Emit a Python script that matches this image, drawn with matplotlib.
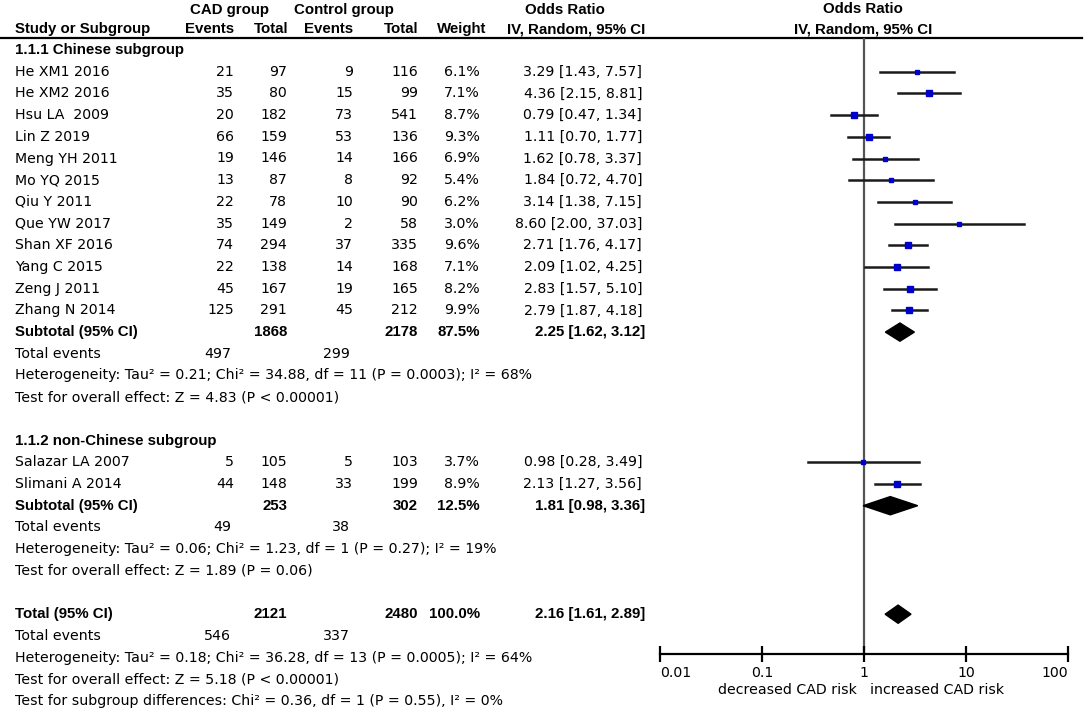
import numpy as np
import matplotlib.pyplot as plt
from matplotlib.patches import Polygon

plt.rcParams['font.family'] = ['DejaVu Sans']

# datos de los estudios
estudios = ['He XM1 2016', 'He XM2 2016', 'Hsu LA  2009', 'Lin Z 2019', 'Meng YH 2011',
            'Mo YQ 2015', 'Qiu Y 2011', 'Que YW 2017', 'Shan XF 2016', 'Yang C 2015',
            'Zeng J 2011', 'Zhang N 2014', 'Salazar LA 2007', 'Slimani A 2014']
ev_cad = [21, 35, 20, 66, 19, 13, 22, 35, 74, 22, 45, 125, 5, 44]
tot_cad = [97, 80, 182, 159, 146, 87, 78, 149, 294, 138, 167, 291, 105, 148]
ev_ctl = [9, 15, 73, 53, 14, 8, 10, 2, 37, 14, 19, 45, 5, 33]
tot_ctl = [116, 99, 541, 136, 166, 92, 90, 58, 335, 168, 165, 212, 103, 199]
peso = [6.1, 7.1, 8.7, 9.3, 6.9, 5.4, 6.2, 3.0, 9.6, 7.1, 8.2, 9.9, 3.7, 8.9]
OR = [3.29, 4.36, 0.79, 1.11, 1.62, 1.84, 3.14, 8.60, 2.71, 2.09, 2.83, 2.79, 0.98, 2.13]
ci_lo = [1.43, 2.15, 0.47, 0.70, 0.78, 0.72, 1.38, 2.00, 1.76, 1.02, 1.57, 1.87, 0.28, 1.27]
ci_hi = [7.57, 8.81, 1.34, 1.77, 3.37, 4.70, 7.15, 37.03, 4.17, 4.25, 5.10, 4.18, 3.49, 3.56]
fila_estudio = [1, 2, 3, 4, 5, 6, 7, 8, 9, 10, 11, 12, 19, 20]

# resumenes: subgrupo 1, subgrupo 2, total
res_nombre = ['Subtotal (95% CI)', 'Subtotal (95% CI)', 'Total (95% CI)']
res_fila = [13, 21, 26]
res_tot_cad = [1868, 253, 2121]
res_tot_ctl = [2178, 302, 2480]
res_peso = ['87.5%', '12.5%', '100.0%']
res_or = [2.25, 1.81, 2.16]
res_lo = [1.62, 0.98, 1.61]
res_hi = [3.12, 3.36, 2.89]
res_ev_cad = [497, 49, 546]
res_ev_ctl = [299, 38, 337]
res_het = ['Heterogeneity: Tau\u00b2 = 0.21; Chi\u00b2 = 34.88, df = 11 (P = 0.0003); I\u00b2 = 68%',
           'Heterogeneity: Tau\u00b2 = 0.06; Chi\u00b2 = 1.23, df = 1 (P = 0.27); I\u00b2 = 19%',
           'Heterogeneity: Tau\u00b2 = 0.18; Chi\u00b2 = 36.28, df = 13 (P = 0.0005); I\u00b2 = 64%']
res_z = ['Test for overall effect: Z = 4.83 (P < 0.00001)',
         'Test for overall effect: Z = 1.89 (P = 0.06)',
         'Test for overall effect: Z = 5.18 (P < 0.00001)']
subgrupos = ['1.1.1 Chinese subgroup', '1.1.2 non-Chinese subgroup']
fila_subgrupo = [0, 18]
dif_subgrupos = 'Test for subgroup differences: Chi\u00b2 = 0.36, df = 1 (P = 0.55), I\u00b2 = 0%'

y0 = 50.0    # pixel de la fila 0
dy = 21.7    # alto de fila
fs = 10.2    # normal
fb = 10.8    # negrita
negrita = dict(fontsize=fb, weight='bold', family=['Liberation Sans', 'DejaVu Sans'])

def py(r):
    return y0 + dy * r

fig = plt.figure(figsize=(10.84, 7.10), dpi=100)
ax = fig.add_axes([0, 0, 1, 1])
ax.set_xlim(0, 1084)
ax.set_ylim(710, 0)
ax.axis('off')

# encabezados
ax.text(230, 10, 'CAD group', ha='center', va='center', **negrita)
ax.text(344, 10, 'Control group', ha='center', va='center', **negrita)
ax.text(565, 10, 'Odds Ratio', ha='center', va='center', **negrita)
ax.text(863, 9, 'Odds Ratio', ha='center', va='center', **negrita)
ax.text(15, 29, 'Study or Subgroup', ha='left', va='center', **negrita)
for xr, t in zip([234, 288, 353, 418, 486, 645],
                 ['Events', 'Total', 'Events', 'Total', 'Weight', 'IV, Random, 95% CI']):
    ax.text(xr, 29, t, ha='right', va='center', **negrita)
ax.text(863, 30, 'IV, Random, 95% CI', ha='center', va='center', **negrita)
ax.plot([0, 1082], [38, 38], color='black', lw=1.6)

cols = [234, 287, 353, 418, 480, 642]

for g, r in zip(subgrupos, fila_subgrupo):
    ax.text(15, py(r), g, ha='left', va='center', **negrita)

for i in range(len(estudios)):
    y = py(fila_estudio[i])
    ax.text(15, y, estudios[i], ha='left', va='center', fontsize=fs)
    vals = [str(ev_cad[i]), str(tot_cad[i]), str(ev_ctl[i]), str(tot_ctl[i]),
            '%.1f%%' % peso[i], '%.2f [%.2f, %.2f]' % (OR[i], ci_lo[i], ci_hi[i])]
    for xr, t in zip(cols, vals):
        ax.text(xr, y, t, ha='right', va='center', fontsize=fs)

for j in range(3):
    r = res_fila[j]
    y = py(r)
    ax.text(15, y, res_nombre[j], ha='left', va='center', **negrita)
    ax.text(cols[1], y, str(res_tot_cad[j]), ha='right', va='center', **negrita)
    ax.text(cols[3], y, str(res_tot_ctl[j]), ha='right', va='center', **negrita)
    ax.text(cols[4], y, res_peso[j], ha='right', va='center', **negrita)
    ax.text(645, y, '%.2f [%.2f, %.2f]' % (res_or[j], res_lo[j], res_hi[j]),
            ha='right', va='center', **negrita)
    ax.text(15, py(r + 1), 'Total events', ha='left', va='center', fontsize=fs)
    ax.text(cols[0] - 3, py(r + 1), str(res_ev_cad[j]), ha='right', va='center', fontsize=fs)
    ax.text(cols[2] - 3, py(r + 1), str(res_ev_ctl[j]), ha='right', va='center', fontsize=fs)
    ax.text(15, py(r + 2), res_het[j], ha='left', va='center', fontsize=fs)
    ax.text(15, py(r + 3), res_z[j], ha='left', va='center', fontsize=fs)
ax.text(15, py(30), dif_subgrupos, ha='left', va='center', fontsize=fs)

ax.text(857, 690, 'decreased CAD risk', ha='right', va='center', fontsize=fs)
ax.text(870, 690, 'increased CAD risk', ha='left', va='center', fontsize=fs)

# grafico de bosque
top_px, bot_px = 38, 654
axf = fig.add_axes([660 / 1084, (710 - bot_px) / 710, 408 / 1084, (bot_px - top_px) / 710])
axf.set_xscale('log')
axf.set_xlim(0.01, 100)
axf.set_ylim((bot_px - y0) / dy, (top_px - y0) / dy)
axf.patch.set_alpha(0)
for s in ['left', 'right', 'top']:
    axf.spines[s].set_visible(False)
axf.spines['bottom'].set_linewidth(1.6)
axf.axvline(1, color='#555555', lw=1.6, zorder=1)
axf.set_yticks([])
axf.set_xticks([0.01, 0.1, 1, 10, 100])
axf.set_xticklabels(['0.01', '0.1', '1', '10', '100'])
axf.minorticks_off()
axf.tick_params(axis='x', direction='inout', length=11, width=1.6, labelsize=fs, pad=3)
etiquetas = axf.get_xticklabels()
etiquetas[0].set_ha('left')
etiquetas[-1].set_ha('right')

for i in range(len(estudios)):
    r = fila_estudio[i]
    axf.plot([ci_lo[i], ci_hi[i]], [r, r], color='#1a1a1a', lw=1.8, zorder=2)
    lado = 1.9 * np.sqrt(peso[i]) * 0.72
    axf.plot(OR[i], r, marker='s', ms=lado, color='#0000cc', mec='#0000cc', zorder=3)

for j in range(3):
    r = res_fila[j]
    h = 0.42
    dia = Polygon([[res_lo[j], r], [res_or[j], r - h], [res_hi[j], r], [res_or[j], r + h]],
                  closed=True, facecolor='black', edgecolor='black', zorder=3)
    axf.add_patch(dia)

plt.savefig('out.png', dpi=100)
